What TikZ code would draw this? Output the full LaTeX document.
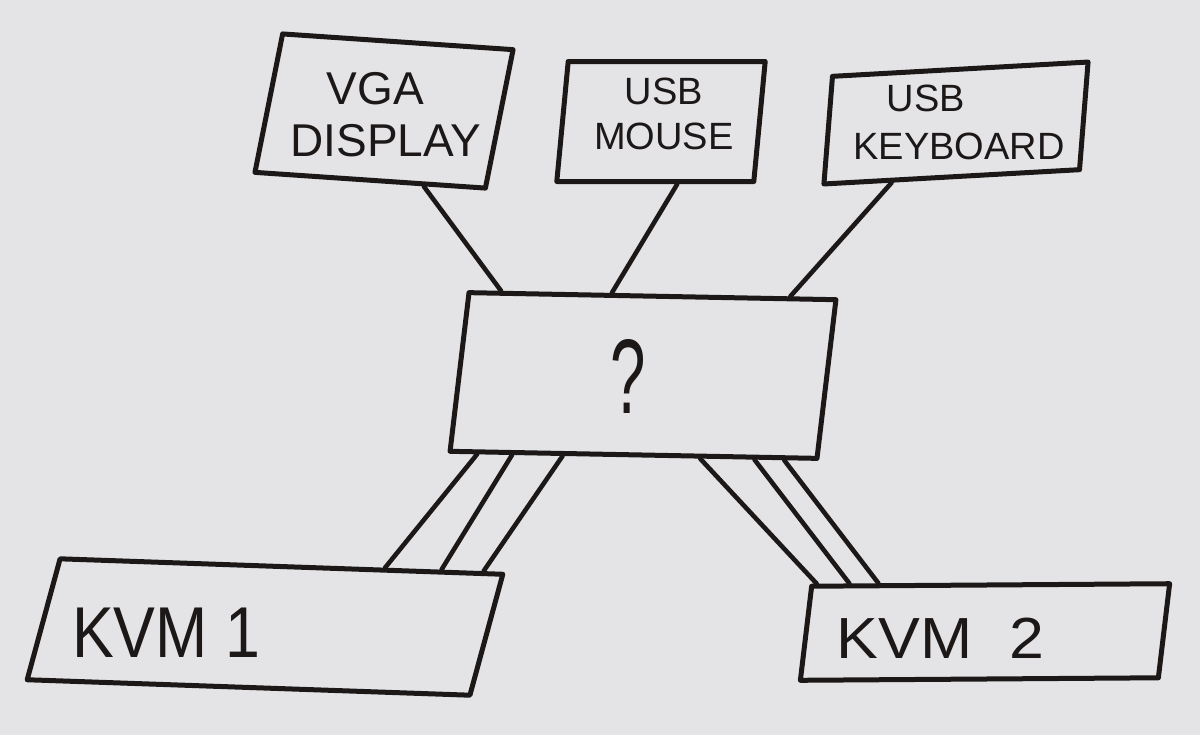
\documentclass[tikz,border=0pt]{standalone}
\usepackage{fontspec}
\setmainfont{Liberation Sans}
\usetikzlibrary{calc}
\definecolor{paper}{RGB}{228,228,231}
\definecolor{ink}{RGB}{28,24,24}
\begin{document}
\begin{tikzpicture}[x=0.5pt,y=-0.5pt,
  box/.style={draw=ink,line width=2.5pt,line join=round,rectangle,inner sep=0pt},
  wire/.style={draw=ink,line width=2.3pt,line cap=round},
  lbl/.style={text=ink,align=center,inner sep=0pt}]
\fill[paper] (0,0) rectangle (1200,735);
\useasboundingbox (0,0) rectangle (1200,735);
% boxes
\node[box,minimum width=115.5pt,minimum height=70pt,rotate=-3.9,xslant=0.13] (vga) at (384,111) {};
\node[box,minimum width=98.5pt,minimum height=60pt,xslant=0.095] (mouse) at (661,121.5) {};
\node[box,minimum width=128pt,minimum height=53.5pt,rotate=3.2,xslant=0.136] (kbd) at (956,123) {};
\node[box,minimum width=183.5pt,minimum height=79.5pt,rotate=-1.1,xslant=0.10] (q) at (643,375.5) {};
\node[box,minimum width=221.5pt,minimum height=61pt,rotate=-2,xslant=0.235] (kvma) at (265,627) {};
\node[box,minimum width=179pt,minimum height=47pt,rotate=0.4,xslant=0.127] (kvmb) at (985,632) {};
% labels
\node[lbl,font=\fontsize{23}{26}\selectfont] (tvga) at (386,115) {VGA\hspace*{10.5pt}\\DISPLAY};
\node[lbl,font=\fontsize{19}{22.5}\selectfont] (tmouse) at (664,114) {USB\\MOUSE};
\node[lbl,font=\fontsize{19}{24}\selectfont] (tkbd) at (959,122.5) {USB\hspace*{33pt}\\KEYBOARD};
\node[text=ink,inner sep=0pt,xscale=0.6,font=\fontsize{53}{55}\selectfont] (tq) at (628,376) {?};
\node[text=ink,anchor=base west,xscale=0.87,font=\fontsize{36}{40}\selectfont] (tkvma) at (66,657) {KVM 1};
\node[text=ink,anchor=base west,xscale=1.08,font=\fontsize{29}{32}\selectfont] (tkvmb) at (829,658) {KVM\hspace{17pt}2};
% upper connectors
\draw[wire] ($(vga.south west)!0.73!(vga.south east)$) -- ($(q.north west)!0.092!(q.north east)$);
\draw[wire] ($(mouse.south west)!0.61!(mouse.south east)$) -- ($(q.north west)!0.39!(q.north east)$);
\draw[wire] ($(kbd.south west)!0.27!(kbd.south east)$) -- ($(q.north west)!0.87!(q.north east)$);
% lower connectors to KVM 1
\draw[wire] ($(q.south west)!0.08!(q.south east)$) -- ($(kvma.north west)!0.73!(kvma.north east)$);
\draw[wire] ($(q.south west)!0.174!(q.south east)$) -- ($(kvma.north west)!0.856!(kvma.north east)$);
\draw[wire] ($(q.south west)!0.31!(q.south east)$) -- ($(kvma.north west)!0.95!(kvma.north east)$);
% lower connectors to KVM 2
\draw[wire] ($(q.south west)!0.68!(q.south east)$) -- ($(kvmb.north west)!0.02!(kvmb.north east)$);
\draw[wire] ($(q.south west)!0.826!(q.south east)$) -- ($(kvmb.north west)!0.11!(kvmb.north east)$);
\draw[wire] ($(q.south west)!0.906!(q.south east)$) -- ($(kvmb.north west)!0.19!(kvmb.north east)$);
\end{tikzpicture}
\end{document}
